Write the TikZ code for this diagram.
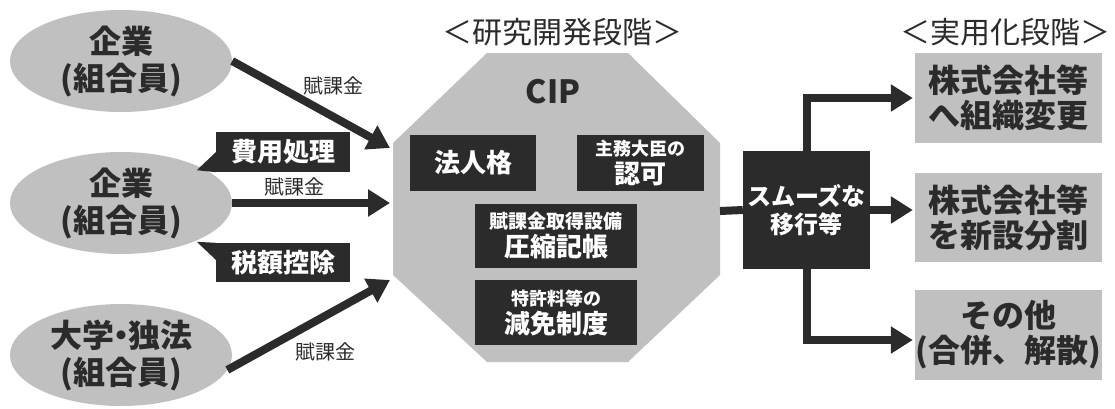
\documentclass[tikz,border=0pt]{standalone}
\usepackage{fontspec}
\setmainfont{Noto Sans CJK JP}
\usetikzlibrary{arrows.meta,calc,shapes.geometric}
\definecolor{fgray}{RGB}{192,192,192}
\definecolor{dark}{RGB}{43,43,43}
\tikzset{
  ell/.style={ellipse,fill=fgray,minimum width=222pt,minimum height=102pt,inner sep=0pt,align=center,text=dark,font=\fontsize{32}{37}\selectfont\bfseries},
  darkbox/.style={fill=dark,text=white,align=center,inner sep=0pt,font=\fontsize{26}{30}\selectfont\bfseries},
  graybox/.style={fill=fgray,text=dark,align=center,inner sep=0pt,minimum width=187pt,font=\fontsize{32}{35}\selectfont\bfseries},
  lbl/.style={text=dark,font=\fontsize{20}{24}\selectfont},
  ttl/.style={text=dark,font=\fontsize{30}{34}\selectfont},
  arr/.style={draw=dark,line width=8pt,-{Triangle[length=22pt,width=26pt]}},
  link/.style={draw=dark,line width=8pt}
}
\begin{document}
\begin{tikzpicture}[x=1pt,y=-1pt]
\useasboundingbox (0,0) rectangle (1115,408);
% octagon
\fill[fgray] (487,53) -- (628,53) -- (720,143) -- (720,275) -- (628,362) -- (487,362) -- (393,275) -- (393,143) -- cycle;
\node[ttl] (t1) at (562,32) {＜研究開発段階＞};
\node[ttl] (t2) at (1005,32) {＜実用化段階＞};
\node[text=dark,font=\fontsize{32}{36}\selectfont\bfseries] (cip) at (553,92) {CIP};
% ellipses
\node[ell] (e1) at (121,61) {企業\\(組合員)};
\node[ell] (e2) at (121,203) {企業\\(組合員)};
\node[ell] (e3) at (121,355) {大学\kern-9pt・\kern-9pt独法\\(組合員)};
% callouts
\node[darkbox,minimum width=134pt,minimum height=40pt] (hiyou) at (283,152) {費用処理};
\fill[dark] (hiyou.south west) -- ($(hiyou.south west)+(-19,-2)$) -- ($(hiyou.south west)+(0,-20)$) -- cycle;
\node[darkbox,minimum width=134pt,minimum height=39pt] (zei) at (283,262.5) {税額控除};
\fill[dark] (zei.north west) -- ($(zei.north west)+(-19,-1)$) -- ($(zei.north west)+(0,17)$) -- cycle;
% arrows in
\coordinate (a1) at (390,148);
\coordinate (a2) at (390,203);
\coordinate (a3) at (390,280);
\draw[arr] (e1.east) -- (a1);
\draw[arr] (e2.east) -- (a2);
\draw[arr] (e3.-8) -- (a3);
\node[lbl] (l1) at (333,86) {賦課金};
\node[lbl] (l2) at (294,187) {賦課金};
\node[lbl] (l3) at (325,352) {賦課金};
% inner boxes
\node[darkbox,minimum width=126pt,minimum height=56pt] (hojin) at (473,163) {法人格};
\node[darkbox,minimum width=127pt,minimum height=56pt] (ninka) at (640.5,163) {{\fontsize{18}{22}\selectfont 主務大臣の}\\[-2pt]認可};
\node[darkbox,minimum width=162pt,minimum height=64pt] (assh) at (556,236) {{\fontsize{19}{22}\selectfont 賦課金取得設備}\\[-2pt]圧縮記帳};
\node[darkbox,minimum width=162pt,minimum height=65pt] (genm) at (556,312.5) {{\fontsize{18}{22}\selectfont 特許料等の}\\[-2pt]減免制度};
% smooth
\node[darkbox,minimum width=127pt,minimum height=118pt,font=\fontsize{24}{28}\selectfont\bfseries] (smooth) at (806.5,210) {スムーズな\\移行等};
\coordinate (oe) at (720,211);
\draw[link] (oe) -- (smooth.west);
% right boxes
\node[graybox,minimum height=90pt] (r1) at (1008.5,98) {株式会社等\\へ組織変更};
\node[graybox,minimum height=89pt] (r2) at (1008.5,217.5) {株式会社等\\を新設分割};
\node[graybox,minimum height=90pt] (r3) at (1008.5,335) {その他\\(合併、解散)};
\draw[arr,shorten >=2pt] (smooth.north) |- (r1.west);
\draw[arr,shorten >=2pt] (smooth.east) -- (smooth.east -| r2.west);
\draw[arr,shorten >=2pt] (smooth.south) |- ([yshift=-5pt]r3.west);
\end{tikzpicture}
\end{document}
